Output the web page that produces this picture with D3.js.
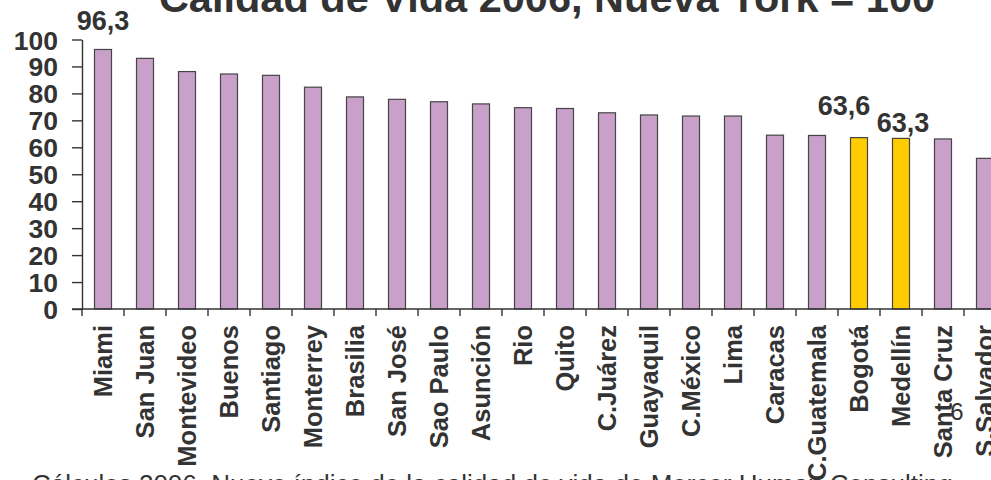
<!DOCTYPE html>
<html>
<head>
<meta charset="utf-8">
<script src="https://cdn.jsdelivr.net/npm/d3@7/dist/d3.min.js"></script>
<style>
  html, body { margin: 0; padding: 0; background: #ffffff; overflow: hidden; }
  svg { display: block; }
  text { font-family: "Liberation Sans", Arial, Helvetica, sans-serif; fill: #333333; }
</style>
</head>
<body>
<svg id="chart" width="991" height="480"></svg>
<script>
// ---- data ----
const cities = ["Miami", "San Juan", "Montevideo", "Buenos", "Santiago", "Monterrey", "Brasilia",
  "San José", "Sao Paulo", "Asunción", "Rio", "Quito", "C.Juárez", "Guayaquil", "C.México",
  "Lima", "Caracas", "C.Guatemala", "Bogotá", "Medellín", "Santa Cruz", "S.Salvador"];
const values = [96.3, 93.0, 88.1, 87.2, 86.7, 82.3, 78.7, 77.8, 76.9, 76.1, 74.7, 74.4, 72.8, 72.0,
  71.6, 71.6, 64.5, 64.4, 63.6, 63.3, 63.1, 55.9];
const highlighted = ["Bogotá", "Medellín"];
const labelled = ["Miami", "Bogotá", "Medellín"];
const yTicks = [0, 10, 20, 30, 40, 50, 60, 70, 80, 90, 100];
const titleText = "Calidad de Vida 2006, Nueva York = 100";
const noteText = "Cálculos 2006. Nuevo índice de la calidad de vida de Mercer Human Consulting";
const pageNumber = "6";

// ---- layout / style ----
const purple = "#C8A0CA", yellow = "#FFCC00", edge = "#454545", ink = "#333333";
const x0 = 82, step = 42, yZero = 309, yTop = 39.5;
const labelNudge = { "Miami": [0, -19], "Bogotá": [-15, -23], "Medellín": [2, -6] };

const svg = d3.select("#chart");
const data = cities.map((c, i) => ({ city: c, value: values[i] }));

const x = d3.scaleBand().domain(cities).range([x0, x0 + step * cities.length])
  .paddingInner(0.595).paddingOuter(0.2976);
const y = d3.scaleLinear().domain([0, 100]).range([yZero, yTop]);

// title (clipped at top)
svg.append("text").attr("x", 547).attr("y", 12).attr("text-anchor", "middle")
  .style("font-size", "41.5px").style("font-weight", "bold").text(titleText);

// bars
svg.append("g").selectAll("rect").data(data).join("rect")
  .attr("x", d => x(d.city)).attr("width", x.bandwidth())
  .attr("y", d => y(d.value)).attr("height", d => y(0) - y(d.value))
  .attr("fill", d => highlighted.includes(d.city) ? yellow : purple)
  .attr("stroke", edge).attr("stroke-width", 1.2);

// y axis
const yAxis = d3.axisLeft(y).tickValues(yTicks).tickSize(10).tickSizeOuter(0).tickPadding(14);
const gy = svg.append("g").attr("transform", `translate(${x0},0)`).call(yAxis);
gy.select(".domain").attr("stroke", ink).attr("stroke-width", 1.4);
gy.selectAll(".tick line").attr("stroke", ink).attr("stroke-width", 1.4);
gy.selectAll(".tick text").attr("fill", ink)
  .style("font-size", "26.5px").style("font-weight", "bold")
  .style("font-family", "'Liberation Sans', Arial, sans-serif").attr("dy", "0.36em");

// x axis line and boundary ticks
const gx = svg.append("g");
gx.append("line").attr("x1", x0 - 10).attr("x2", x0 + step * cities.length)
  .attr("y1", y(0)).attr("y2", y(0)).attr("stroke", ink).attr("stroke-width", 1.4);
const bounds = cities.map(c => x(c) - (x.step() - x.bandwidth()) / 2);
gx.selectAll("line.tk").data(bounds).join("line").attr("class", "tk")
  .attr("x1", d => d).attr("x2", d => d).attr("y1", y(0)).attr("y2", y(0) + 7)
  .attr("stroke", ink).attr("stroke-width", 1.4);

// category labels
svg.append("g").selectAll("text").data(cities).join("text")
  .attr("transform", d => `translate(${x(d) + x.bandwidth() / 2},325) rotate(-90)`)
  .attr("text-anchor", "end").attr("dy", "0.36em")
  .style("font-size", "25.5px").style("font-weight", "bold").text(d => d);

// value labels
svg.append("g").selectAll("text").data(data.filter(d => labelled.includes(d.city))).join("text")
  .attr("x", d => x(d.city) + x.bandwidth() / 2 + labelNudge[d.city][0])
  .attr("y", d => y(d.value) + labelNudge[d.city][1])
  .attr("text-anchor", "middle")
  .style("font-size", "27px").style("font-weight", "bold")
  .text(d => d3.format(".1f")(d.value).replace(".", ","));

// page number
svg.append("text").attr("x", 957).attr("y", 420).attr("text-anchor", "middle")
  .style("font-size", "24px").text(pageNumber);

// source note (clipped at bottom)
svg.append("text").attr("x", 32).attr("y", 493)
  .style("font-size", "26px").text(noteText);
</script>
</body>
</html>
